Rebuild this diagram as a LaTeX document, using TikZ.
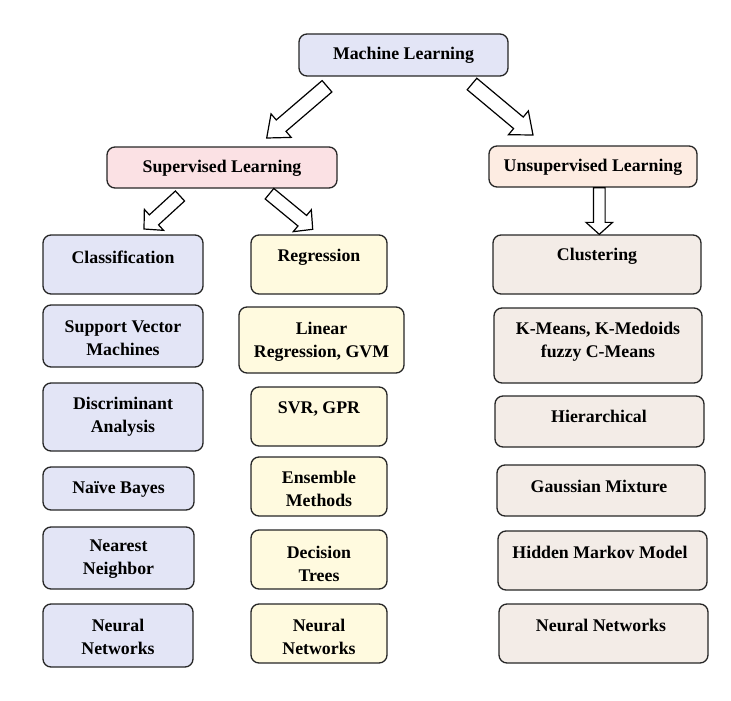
\documentclass[tikz,border=0pt]{standalone}
\usepackage{fontspec}
\setmainfont{Liberation Serif}
\usetikzlibrary{calc}
\definecolor{lav}{HTML}{E3E5F6}
\definecolor{pinkc}{HTML}{FBE1E4}
\definecolor{peach}{HTML}{FDECE2}
\definecolor{yel}{HTML}{FFFADF}
\definecolor{beige}{HTML}{F3ECE7}
\tikzset{
  box/.style={draw=black!85, line width=1.3pt, rounded corners=8pt, inner sep=0pt},
  lbl/.style={font=\fontsize{17.8}{23}\selectfont\bfseries, align=center, inner sep=0pt},
  arrowbox/.style={draw=black, line width=1.2pt, fill=white, line join=miter}
}
\newcommand\bx[6]{\node[box, fill=#6, minimum width={(#3-#2)*1pt}, minimum height={(#5-#4)*1pt}] (#1) at ({(#2+#3)/2},{(#4+#5)/2}) {};}
\newcommand\tx[4]{\node[lbl] (#1) at (#2,#3) {#4};}
\newcommand\blkarrow[5]{%
  \coordinate (hb) at ($(#2)!#5!(#1)$);
  \draw[arrowbox] ($(#1)!#3!90:(#2)$) -- ($(hb)!#3!-90:(#1)$) -- ($(hb)!#4!-90:(#1)$) -- (#2)
     -- ($(hb)!#4!90:(#1)$) -- ($(hb)!#3!90:(#1)$) -- ($(#1)!#3!-90:(#2)$) -- cycle;}
\begin{document}
\begin{tikzpicture}[x=1pt,y=-1pt]
\useasboundingbox (0,0) rectangle (731,701);
% top levels
\bx{ml}{299}{508}{34}{76}{lav}
\tx{mlt}{403.5}{55}{Machine Learning}
\bx{sup}{107}{337}{147}{188}{pinkc}
\tx{supt}{222}{168}{Supervised Learning}
\bx{uns}{489}{697}{146}{187}{peach}
\tx{unst}{593}{167}{Unsupervised Learning}
% column 1
\bx{cls}{43}{203}{235}{294}{lav}
\tx{clst}{123}{257.5}{Classification}
\bx{svm}{43}{203}{305}{367}{lav}
\tx{svmt}{123}{338}{Support Vector\\Machines}
\bx{dis}{43}{203}{383}{451}{lav}
\tx{dist}{123}{416.5}{Discriminant\\Analysis}
\bx{nb}{43}{194}{467}{510}{lav}
\tx{nbt}{118.5}{489}{Naïve Bayes}
\bx{nn1}{43}{194}{527}{589}{lav}
\tx{nn1t}{118.5}{559.5}{Nearest\\Neighbor}
\bx{nw1}{43}{193}{604}{667}{lav}
\tx{nw1t}{118}{636.5}{Neural\\Networks}
% column 2
\bx{reg}{251}{387}{235}{294}{yel}
\tx{regt}{319}{257.5}{Regression}
\bx{lin}{239}{404}{307}{373}{yel}
\tx{lint}{321.5}{341.5}{Linear\\Regression, GVM}
\bx{svr}{251}{387}{387}{446}{yel}
\tx{svrt}{319}{408.5}{SVR, GPR}
\bx{ens}{251}{387}{457}{516}{yel}
\tx{enst}{319}{489}{Ensemble\\Methods}
\bx{dt}{251}{387}{530}{589}{yel}
\tx{dtt}{319}{563.5}{Decision\\Trees}
\bx{nw2}{251}{387}{604}{663}{yel}
\tx{nw2t}{319}{636.5}{Neural\\Networks}
% column 3
\bx{clu}{493}{701}{235}{294}{beige}
\tx{clut}{597}{256.5}{Clustering}
\bx{km}{494}{702}{308}{383}{beige}
\tx{kmt}{598}{342}{K-Means, K-Medoids\\fuzzy C-Means}
\bx{hie}{495}{704}{396}{447}{beige}
\tx{hiet}{599}{416.5}{Hierarchical}
\bx{gm}{497}{705}{465}{516}{beige}
\tx{gmt}{599}{486.5}{Gaussian Mixture}
\bx{hmm}{498}{707}{531}{590}{beige}
\tx{hmmt}{600}{552.5}{Hidden Markov Model}
\bx{nw3}{499}{708}{604}{663}{beige}
\tx{nw3t}{601}{625.5}{Neural Networks}
% arrow end points
\coordinate (a1s) at (327,86.3);   \coordinate (a1e) at (266.7,138);
\coordinate (a2s) at (472,84);     \coordinate (a2e) at (533,135);
\coordinate (a3s) at (180,196);    \coordinate (a3e) at (144,229);
\coordinate (a4s) at (269.5,193.7);\coordinate (a4e) at (312.7,229.3);
\coordinate (a5x) at (599.3,235);
\coordinate (a5s) at (a5x |- uns.south);
\coordinate (a5e) at (a5x |- clu.north);
\blkarrow{a1s}{a1e}{7.5pt}{15.5pt}{19pt}
\blkarrow{a2s}{a2e}{7.5pt}{15.5pt}{19pt}
\blkarrow{a3s}{a3e}{6.8pt}{14.2pt}{13.5pt}
\blkarrow{a4s}{a4e}{6.8pt}{14.2pt}{13.5pt}
\blkarrow{a5s}{a5e}{5.8pt}{13.3pt}{12pt}
\end{tikzpicture}
\end{document}
